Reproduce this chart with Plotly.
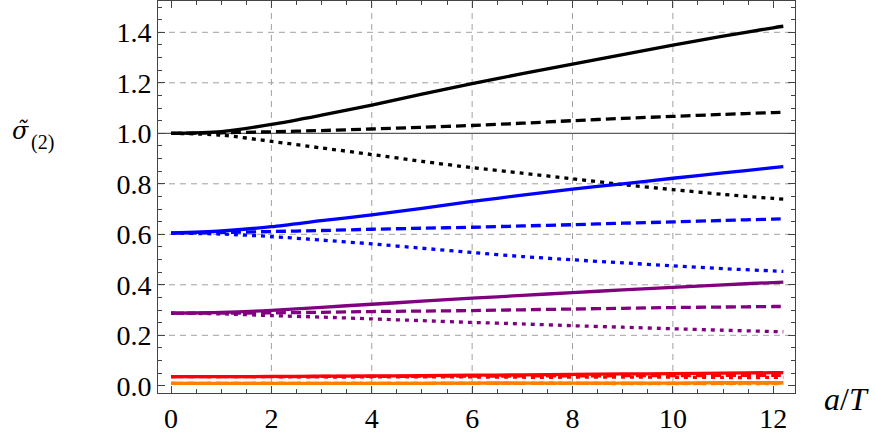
import plotly.graph_objects as go

# ---- data ----
x_vals = [0, 1, 2, 3, 4, 5, 6, 7, 8, 9, 10, 11, 12, 12.2]

black_solid  = [1.000, 1.007, 1.035, 1.072, 1.112, 1.155, 1.197, 1.236, 1.274, 1.312, 1.349, 1.385, 1.418, 1.424]
black_dashed = [1.000, 1.002, 1.006, 1.011, 1.017, 1.024, 1.031, 1.040, 1.050, 1.059, 1.067, 1.075, 1.082, 1.083]
black_dotted = [1.000, 0.993, 0.968, 0.942, 0.916, 0.889, 0.864, 0.842, 0.820, 0.797, 0.777, 0.758, 0.742, 0.739]

blue_solid  = [0.605, 0.613, 0.630, 0.654, 0.677, 0.703, 0.730, 0.755, 0.779, 0.800, 0.822, 0.843, 0.864, 0.868]
blue_dashed = [0.605, 0.607, 0.611, 0.615, 0.620, 0.624, 0.628, 0.633, 0.638, 0.644, 0.649, 0.655, 0.660, 0.661]
blue_dotted = [0.605, 0.601, 0.591, 0.577, 0.562, 0.545, 0.528, 0.512, 0.499, 0.487, 0.475, 0.464, 0.455, 0.453]

purple_solid  = [0.288, 0.291, 0.299, 0.311, 0.323, 0.335, 0.347, 0.358, 0.369, 0.380, 0.390, 0.400, 0.409, 0.411]
purple_dashed = [0.288, 0.288, 0.289, 0.291, 0.294, 0.296, 0.298, 0.301, 0.304, 0.307, 0.310, 0.312, 0.314, 0.314]
purple_dotted = [0.288, 0.285, 0.278, 0.272, 0.265, 0.258, 0.251, 0.245, 0.238, 0.232, 0.226, 0.220, 0.215, 0.214]

red_solid  = [0.036, 0.036, 0.037, 0.038, 0.039, 0.040, 0.042, 0.043, 0.045, 0.047, 0.048, 0.050, 0.052, 0.052]
red_dashed = [0.036, 0.036, 0.036, 0.037, 0.037, 0.038, 0.038, 0.039, 0.039, 0.040, 0.040, 0.041, 0.041, 0.041]
red_dotted = [0.036, 0.036, 0.036, 0.035, 0.035, 0.035, 0.035, 0.034, 0.034, 0.034, 0.034, 0.033, 0.033, 0.033]

orange_solid  = [0.010, 0.010, 0.010, 0.010, 0.010, 0.010, 0.011, 0.011, 0.011, 0.011, 0.011, 0.012, 0.012, 0.012]
orange_dashed = [0.010, 0.010, 0.010, 0.010, 0.010, 0.010, 0.010, 0.010, 0.010, 0.010, 0.010, 0.010, 0.011, 0.011]
orange_dotted = [0.010, 0.010, 0.010, 0.010, 0.010, 0.010, 0.010, 0.010, 0.010, 0.009, 0.009, 0.009, 0.009, 0.009]

x_ticks = [0, 2, 4, 6, 8, 10, 12]
y_ticks = [0.0, 0.2, 0.4, 0.6, 0.8, 1.0, 1.2, 1.4]
grid_x = [2, 4, 6, 8, 10]
grid_y = [0.2, 0.4, 0.6, 0.8, 1.2, 1.4]

# ---- styles ----
DASHED = "10px,5px"
DOTTED = "4px,5px"
LW = 3.3

series = [
    (black_solid, "#000000", "solid"), (black_dashed, "#000000", DASHED), (black_dotted, "#000000", DOTTED),
    (blue_solid, "#0000FF", "solid"), (blue_dashed, "#0000FF", DASHED), (blue_dotted, "#0000FF", DOTTED),
    (purple_solid, "#800080", "solid"), (purple_dashed, "#800080", DASHED), (purple_dotted, "#800080", DOTTED),
    (red_solid, "#FF0000", "solid"), (red_dashed, "#FF0000", DASHED), (red_dotted, "#FF0000", DOTTED),
    (orange_solid, "#FF8000", "solid"), (orange_dashed, "#FF8000", DASHED), (orange_dotted, "#FF8000", DOTTED),
]

fig = go.Figure()
for ys, col, dash in series:
    fig.add_trace(go.Scatter(x=x_vals, y=ys, mode="lines", line=dict(color=col, width=LW, dash=dash, shape="spline", smoothing=0.8),
                             showlegend=False, hoverinfo="skip"))

FONT = "Liberation Serif"
AX = "#444444"

shapes = []
for gx in grid_x:
    shapes.append(dict(type="line", xref="x", yref="paper", x0=gx, x1=gx, y0=0, y1=1,
                       line=dict(color="#a0a0a0", width=1, dash="6px,5px"), layer="below"))
for gy in grid_y:
    shapes.append(dict(type="line", xref="paper", yref="y", x0=0, x1=1, y0=gy, y1=gy,
                       line=dict(color="#a0a0a0", width=1, dash="6px,5px"), layer="below"))
# axis line at y = 1
shapes.append(dict(type="line", xref="paper", yref="y", x0=0, x1=1, y0=1.0, y1=1.0,
                   line=dict(color="#333333", width=1), layer="below"))

L, R, T, B, W, H = 158, 80, 1, 42, 875, 435
PW, PH = W - L - R, H - T - B


def px(xp):
    return (xp - L) / PW


def py(yp):
    return (H - B - yp) / PH


fig.update_layout(
    width=W, height=H,
    margin=dict(l=L, r=R, t=T, b=B),
    paper_bgcolor="white", plot_bgcolor="white",
    shapes=shapes,
    xaxis=dict(range=[-0.259, 12.433], tickvals=x_ticks, ticktext=[str(v) for v in x_ticks],
               ticks="inside", ticklen=7, tickwidth=1, tickcolor=AX,
               showline=True, linecolor=AX, linewidth=1, mirror="allticks",
               showgrid=False, zeroline=False,
               minor=dict(dtick=0.5, ticks="inside", ticklen=4, tickwidth=1, tickcolor=AX, showgrid=False),
               tickfont=dict(family=FONT, size=28, color="black")),
    yaxis=dict(range=[-0.0285, 1.524], tickvals=y_ticks, ticktext=[f"{v:.1f}" for v in y_ticks],
               ticks="inside", ticklen=7, tickwidth=1, tickcolor=AX,
               showline=True, linecolor=AX, linewidth=1, mirror="allticks",
               showgrid=False, zeroline=False,
               minor=dict(dtick=0.05, ticks="inside", ticklen=4, tickwidth=1, tickcolor=AX, showgrid=False),
               tickfont=dict(family=FONT, size=28, color="black")),
    annotations=[
        dict(text="<i>\u03c3\u0303</i>", xref="paper", yref="paper", x=px(20), y=py(131),
             xanchor="center", yanchor="middle", showarrow=False,
             font=dict(family="DejaVu Serif", size=24, color="black")),
        dict(text="(2)", xref="paper", yref="paper", x=px(42), y=py(142),
             xanchor="center", yanchor="middle", showarrow=False,
             font=dict(family=FONT, size=20, color="black")),
        dict(text="<i>a</i>/<i>T</i>", xref="paper", yref="paper", x=px(846), y=py(399),
             xanchor="center", yanchor="middle", showarrow=False,
             font=dict(family=FONT, size=32, color="black")),
    ],
)

fig.write_html("out.html")
